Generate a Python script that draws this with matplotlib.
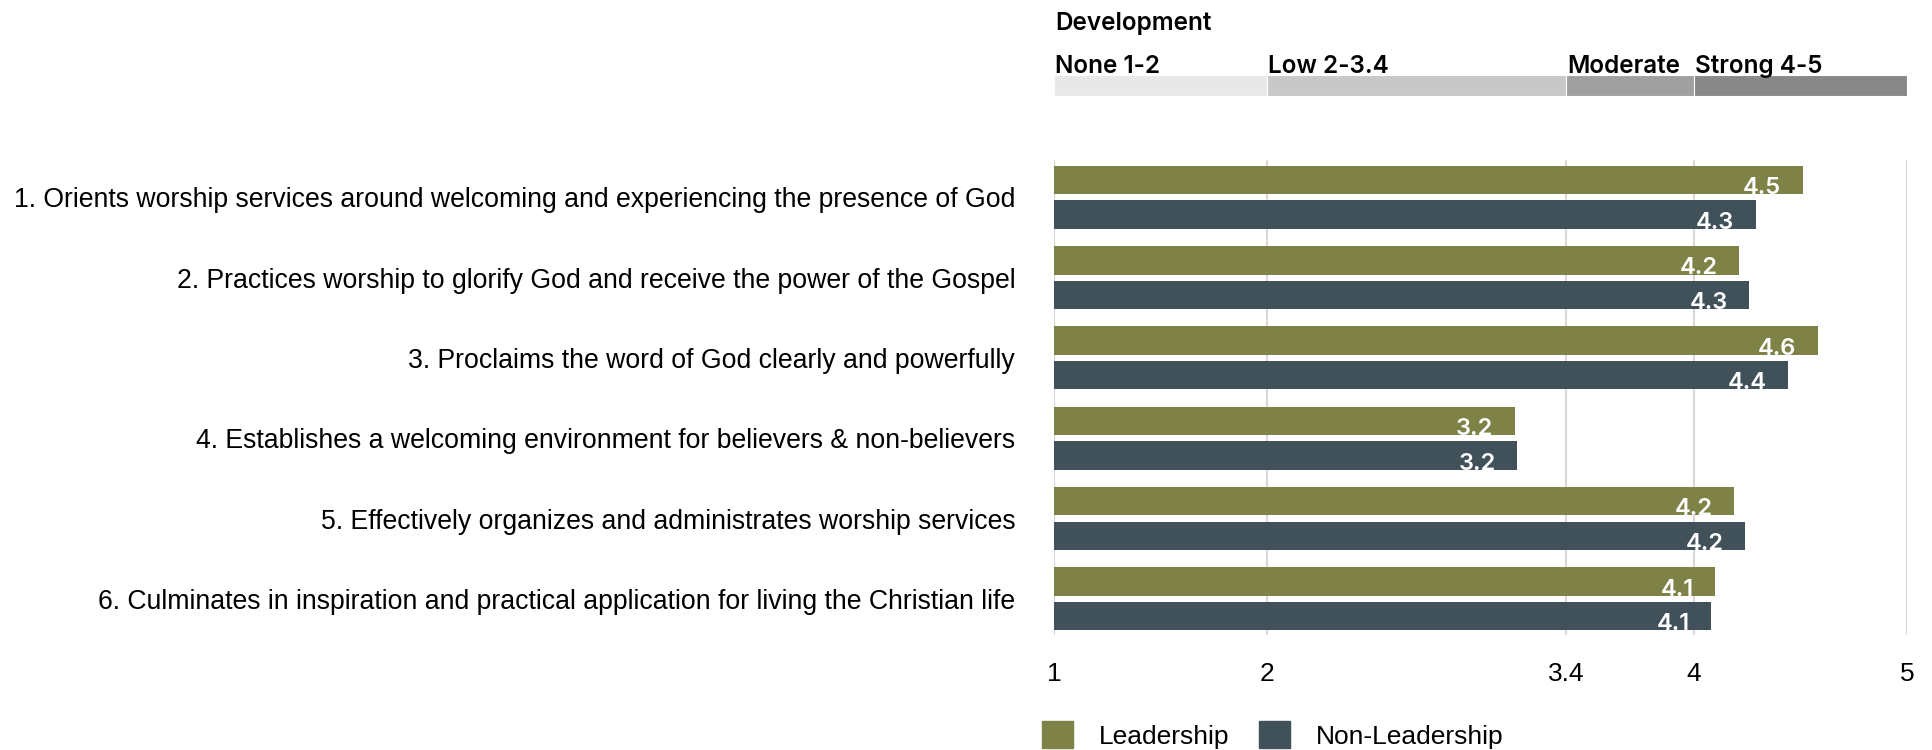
import matplotlib
matplotlib.use('Agg')
import matplotlib.pyplot as plt
import numpy as np
from matplotlib.patches import Rectangle

# data
categories = [
    '1. Orients worship services around welcoming and experiencing the presence of God',
    '2. Practices worship to glorify God and receive the power of the Gospel',
    '3. Proclaims the word of God clearly and powerfully',
    '4. Establishes a welcoming environment for believers & non-believers',
    '5. Effectively organizes and administrates worship services',
    '6. Culminates in inspiration and practical application for living the Christian life',
]
leadership = [4.51, 4.21, 4.58, 3.16, 4.19, 4.10]
non_leadership = [4.29, 4.26, 4.44, 3.17, 4.24, 4.08]
series_names = ['Leadership', 'Non-Leadership']
series_colors = ['#7f8247', '#41515a']

x_ticks = [1, 2, 3.4, 4, 5]
band_edges = [1, 2, 3.4, 4, 5]
band_labels = ['None 1-2', 'Low 2-3.4', 'Moderate', 'Strong 4-5']
band_colors = ['#e8e8e8', '#c8c8c8', '#a0a0a0', '#888888']

LABEL_FONT = 'Liberation Sans'
HEAD_FONT = 'Inter'

fig = plt.figure(figsize=(19.33, 7.5), dpi=100)
ax = fig.add_axes([0.5453, 0.153, 0.4413, 0.634])

y = np.arange(len(categories))
h = 0.354
off = 0.215
for xv in x_ticks:
    ax.axvline(xv, color='#dcd5da', lw=1.5, zorder=0)
ax.barh(y - off, [v - 1 for v in leadership], left=1, height=h,
        color=series_colors[0], zorder=2)
ax.barh(y + off, [v - 1 for v in non_leadership], left=1, height=h,
        color=series_colors[1], zorder=2)

for yi, v in zip(y - off, leadership):
    ax.text(v - 0.1, yi + 0.1, f'{v:.1f}', ha='right', va='center', color='white',
            fontsize=17, fontweight='semibold', family=HEAD_FONT, zorder=3)
for yi, v in zip(y + off, non_leadership):
    ax.text(v - 0.1, yi + 0.1, f'{v:.1f}', ha='right', va='center', color='white',
            fontsize=17, fontweight='semibold', family=HEAD_FONT, zorder=3)

ax.set_xlim(1, 5)
ax.set_ylim(5.454, -0.469)
ax.set_xticks(x_ticks)
ax.set_xticklabels([f'{t:g}' for t in x_ticks], family=LABEL_FONT, fontsize=19)
ax.set_yticks(y)
ax.set_yticklabels(categories, family=LABEL_FONT, fontsize=19.2)
ax.tick_params(axis='both', length=0)
ax.tick_params(axis='x', pad=19)
ax.tick_params(axis='y', pad=28)
for s in ax.spines.values():
    s.set_visible(False)

# development band on top
bax = fig.add_axes([0.5453, 0.872, 0.4413, 0.028], sharex=ax)
for i in range(len(band_labels)):
    bax.barh(0, band_edges[i + 1] - band_edges[i], left=band_edges[i], height=1,
             color=band_colors[i], edgecolor='white', lw=0.8)
    bax.text(band_edges[i] + 0.005, 0.6, band_labels[i], ha='left', va='baseline',
             fontsize=17.5, fontweight='semibold', family=HEAD_FONT)
bax.text(1.005, 2.65, 'Development', ha='left', va='baseline', fontsize=17.5,
         fontweight='semibold', family=HEAD_FONT)
bax.set_ylim(-0.5, 0.5)
bax.axis('off')

# legend at bottom
handles = [Rectangle((0, 0), 1, 1, color=c) for c in series_colors]
fig.legend(handles, series_names, loc='center left', bbox_to_anchor=(0.539, 0.02),
           ncol=2, frameon=False, prop={'family': LABEL_FONT, 'size': 19},
           borderpad=0, borderaxespad=0, handlelength=1.17, handleheight=1.2,
           handletextpad=1.0, columnspacing=1.1)

fig.savefig('out.png', dpi=100)
